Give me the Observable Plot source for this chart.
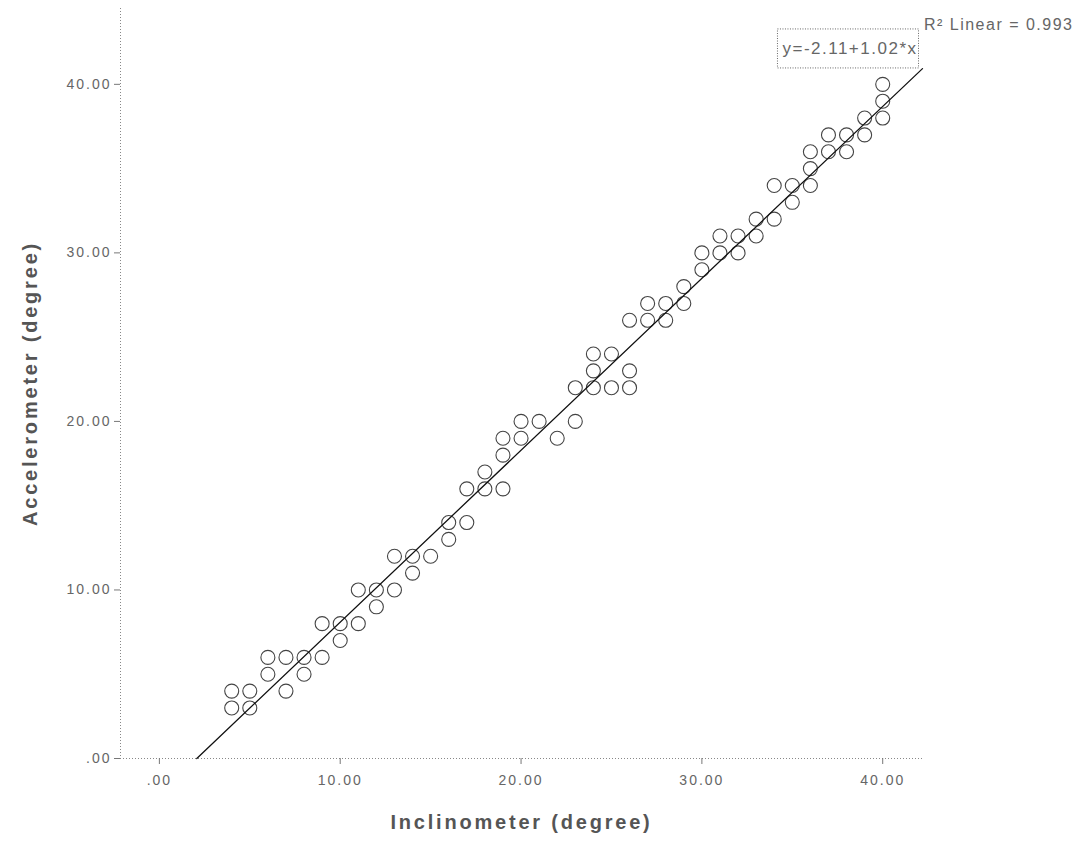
<!DOCTYPE html>
<html>
<head>
<meta charset="utf-8">
<script src="https://cdn.jsdelivr.net/npm/d3@7"></script>
<script src="https://cdn.jsdelivr.net/npm/@observablehq/plot@0.6"></script>
<style>
  body { margin: 0; background: #fff; }
  #chart svg { display: block; }
</style>
</head>
<body>
<div id="chart"></div>
<script>
// Inclinometer (x) vs Accelerometer (y), degrees
const inclinometer = [
  4, 4, 5, 5, 6, 6, 7, 7, 8, 8, 9, 9, 10, 10, 11, 11, 12, 12, 13, 13, 14, 14, 15,
  16, 16, 17, 17, 18, 18, 19, 19, 19, 20, 20, 21, 22, 23, 23, 24, 24, 24, 25, 25,
  26, 26, 26, 27, 27, 28, 28, 29, 29, 30, 30, 31, 31, 32, 32, 33, 33, 34, 34,
  35, 35, 36, 36, 36, 37, 37, 38, 38, 39, 39, 40, 40, 40
];
const accelerometer = [
  4, 3, 4, 3, 6, 5, 6, 4, 6, 5, 8, 6, 8, 7, 10, 8, 10, 9, 12, 10, 12, 11, 12,
  14, 13, 16, 14, 17, 16, 19, 18, 16, 20, 19, 20, 19, 22, 20, 24, 23, 22, 24, 22,
  26, 23, 22, 27, 26, 27, 26, 28, 27, 30, 29, 31, 30, 31, 30, 32, 31, 34, 32,
  34, 33, 36, 35, 34, 37, 36, 37, 36, 38, 37, 40, 39, 38
];
const xTicks = [0, 10, 20, 30, 40];
const yTicks = [0, 10, 20, 30, 40];
const fitIntercept = -2.11;
const fitSlope = 1.02;
const rSquared = 0.993;

const points = inclinometer.map((x, i) => ({x, y: accelerometer[i]}));

const xDomain = [-2.15, 42.2];
const yDomain = [0, 44.5];
const fitLine = [(0 - fitIntercept) / fitSlope, xDomain[1]].map(x => ({x, y: fitIntercept + fitSlope * x}));

const fmt = d => d === 0 ? ".00" : d.toFixed(2);
const eqText = `y=${fitIntercept.toFixed(2)}+${fitSlope.toFixed(2)}*x`;

const plot = Plot.plot({
  width: 1078,
  height: 843,
  marginLeft: 120,
  marginRight: 156,
  marginTop: 8,
  marginBottom: 85,
  style: {fontFamily: "Liberation Sans, Arial, sans-serif", background: "#fff"},
  x: {domain: xDomain, ticks: xTicks},
  y: {domain: yDomain, ticks: yTicks},
  marks: [
    Plot.ruleY([0], {stroke: "#888", strokeDasharray: "1,2"}),
    Plot.ruleX([xDomain[0]], {stroke: "#888", strokeDasharray: "1,2"}),
    Plot.axisX({
      ticks: xTicks, tickFormat: fmt, tickSize: 6, tickPadding: 11,
      stroke: "#777", fill: "#666", fontSize: 14,
      label: "Inclinometer (degree)", labelAnchor: "center", labelArrow: "none", labelOffset: 70
    }),
    Plot.axisY({
      ticks: yTicks, tickFormat: fmt, tickSize: 6, tickPadding: 3,
      stroke: "#777", fill: "#666", fontSize: 14,
      label: "Accelerometer (degree)", labelAnchor: "center", labelArrow: "none", labelOffset: 98
    }),
    Plot.dot(points, {x: "x", y: "y", r: 7, stroke: "#444", strokeWidth: 1.1, fill: "none"}),
    Plot.line(fitLine, {x: "x", y: "y", stroke: "#111", strokeWidth: 1.3}),
    Plot.text([eqText], {
      frameAnchor: "top-right", dx: -5, dy: 40, textAnchor: "end", lineAnchor: "middle",
      fontSize: 17, fill: "#666"
    }),
    Plot.text([`R² Linear = ${rSquared}`], {
      frameAnchor: "top-right", dx: 151, dy: 16, textAnchor: "end", lineAnchor: "middle",
      fontSize: 16, fill: "#666"
    })
  ]
});

const svg = d3.select(plot);
// tick labels letter spacing
svg.selectAll("[aria-label='x-axis tick label'] text, [aria-label='y-axis tick label'] text")
  .attr("letter-spacing", "2px");
// axis titles
svg.selectAll("[aria-label='x-axis label'] text, [aria-label='y-axis label'] text")
  .attr("font-size", 20).attr("font-weight", "bold").attr("fill", "#555")
  .attr("letter-spacing", "2.8px");

document.getElementById("chart").appendChild(plot);

// annotation texts spacing + dotted frame around regression equation
svg.selectAll("text").filter(function() {
  return this.textContent === eqText || this.textContent.startsWith("R²");
}).attr("letter-spacing", "1.5px");

const eq = svg.selectAll("text").filter(function() { return this.textContent === eqText; }).node();
if (eq) {
  const b = eq.getBBox();
  d3.select(eq.parentNode).insert("rect", "text")
    .attr("transform", eq.getAttribute("transform"))
    .attr("x", b.x - 5).attr("y", b.y - 10)
    .attr("width", b.width + 6).attr("height", b.height + 20)
    .attr("fill", "none").attr("stroke", "#666").attr("stroke-dasharray", "1,1.5");
}
</script>
</body>
</html>
